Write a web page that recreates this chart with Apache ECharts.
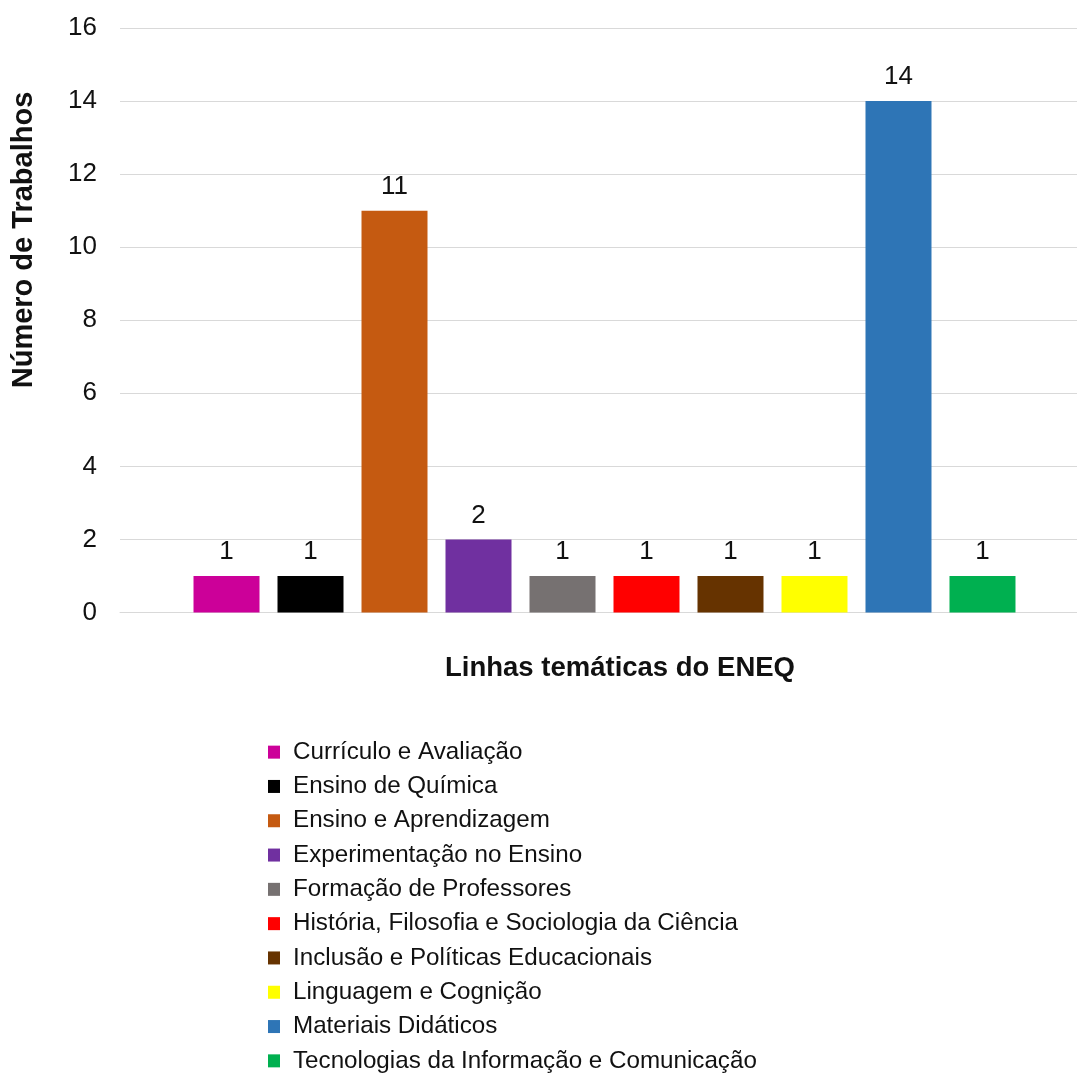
<!DOCTYPE html>
<html>
<head>
<meta charset="utf-8">
<script src="https://cdn.jsdelivr.net/npm/echarts@6/dist/echarts.min.js"></script>
<style>
html,body{margin:0;padding:0;background:#fff;}
#chart{width:1077px;height:1073px;}
</style>
</head>
<body>
<div id="chart"></div>
<script>
const categories = [
  'Currículo e Avaliação',
  'Ensino de Química',
  'Ensino e Aprendizagem',
  'Experimentação no Ensino',
  'Formação de Professores',
  'História, Filosofia e Sociologia da Ciência',
  'Inclusão e Políticas Educacionais',
  'Linguagem e Cognição',
  'Materiais Didáticos',
  'Tecnologias da Informação e Comunicação'
];
const values = [1, 1, 11, 2, 1, 1, 1, 1, 14, 1];
const colors = ['#CC0099', '#000000', '#C55A11', '#7030A0', '#767171', '#FF0000', '#663300', '#FFFF00', '#2E75B6', '#00B050'];
const yTicks = { min: 0, max: 16, interval: 2 };
const xTitle = 'Linhas temáticas do ENEQ';
const yTitle = 'Número de Trabalhos';

const FONT = '"Liberation Sans", Arial, sans-serif';
const TXT = '#111';

const chart = echarts.init(document.getElementById('chart'), null, { renderer: 'canvas' });

const series = categories.map((name, i) => ({
  name: name,
  type: 'bar',
  data: [values[i]],
  barWidth: 66,
  barGap: '27.27%',
  itemStyle: { color: colors[i] },
  label: {
    show: true,
    position: 'top',
    distance: 11,
    fontSize: 26,
    fontFamily: FONT,
    color: TXT
  }
}));

chart.setOption({
  animation: false,
  backgroundColor: '#fff',
  color: colors,
  grid: { left: 120, top: 28, width: 969, height: 584.5, containLabel: false, outerBoundsMode: 'none' },
  xAxis: {
    type: 'category',
    data: [''],
    axisLine: { show: true, lineStyle: { color: '#d9d9d9', width: 1 } },
    axisTick: { show: false },
    axisLabel: { show: false }
  },
  yAxis: {
    type: 'value',
    min: yTicks.min,
    max: yTicks.max,
    interval: yTicks.interval,
    axisLine: { show: false },
    axisTick: { show: false },
    axisLabel: { fontSize: 26, fontFamily: FONT, color: TXT, margin: 23 },
    splitLine: { lineStyle: { color: '#d9d9d9', width: 1 } }
  },
  legend: {
    orient: 'vertical',
    left: 268,
    top: 735,
    height: 420,
    icon: 'rect',
    itemWidth: 12,
    itemHeight: 13,
    itemGap: 0,
    padding: 0,
    textStyle: {
      fontSize: 24.2,
      fontFamily: FONT,
      color: TXT,
      lineHeight: 34.3,
      padding: [0, 0, 0, 8]
    },
    data: categories
  },
  graphic: [
    {
      type: 'text',
      x: 24,
      y: 240,
      rotation: Math.PI / 2,
      style: {
        text: yTitle,
        fontSize: 29,
        fontWeight: 'bold',
        fontFamily: FONT,
        fill: TXT,
        align: 'center',
        verticalAlign: 'middle'
      }
    },
    {
      type: 'text',
      x: 620,
      y: 668,
      style: {
        text: xTitle,
        fontSize: 27.5,
        fontWeight: 'bold',
        fontFamily: FONT,
        fill: TXT,
        align: 'center',
        verticalAlign: 'middle'
      }
    }
  ],
  series: series
});
</script>
</body>
</html>
